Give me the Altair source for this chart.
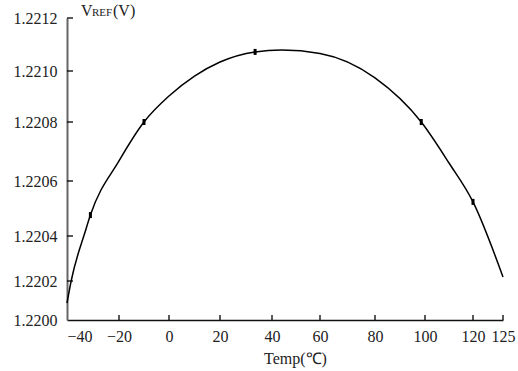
import altair as alt
import pandas as pd

# Curve (temperature in degC, reference voltage in V)
curve_t = [-40, -38.4, -32.8, -31, -20, -10, 0, 10, 20, 33.5, 44, 60, 80, 98.5, 110, 120, 125]
curve_v = [1.220087, 1.2202, 1.220422, 1.220476, 1.220668, 1.22080, 1.220902, 1.22098, 1.221034,
           1.221072, 1.221079, 1.221066, 1.220973, 1.22080, 1.220661, 1.220524, 1.220218]

# Measured points (small markers)
pt_t = [-31, -10, 33.5, 98.5, 120]
pt_v = [1.220476, 1.22080, 1.221072, 1.22080, 1.220524]

# Axis tick labels
x_ticks = [-40, -20, 0, 20, 40, 60, 80, 100, 120, 125]
y_ticks = [1.2200, 1.2202, 1.2204, 1.2206, 1.2208, 1.2210, 1.2212]

W, H = 436, 302
FONT = "Liberation Serif"

# piecewise scales (the original drawing's axis divisions are not uniform)
xs = alt.Scale(domain=x_ticks, range=[0, 52, 102, 153, 205, 253, 308, 358, 406, 436], zero=False, nice=False)
ys = alt.Scale(domain=y_ticks, range=[302, 263, 218, 163, 104, 53, 0], zero=False, nice=False)

curve = pd.DataFrame({"T": curve_t, "V": curve_v})
pts = pd.DataFrame({"T": pt_t, "V": pt_v})
xt = pd.DataFrame({"T": x_ticks[1:]})
yt = pd.DataFrame({"V": y_ticks[1:]})

x_axis = alt.Axis(values=x_ticks, format="d", ticks=False, domainColor="#111", domainWidth=1.6,
                  labelFont=FONT, labelFontSize=16, labelColor="#222", labelPadding=8,
                  labelAlign=alt.expr("datum.value == -40 ? 'left' : 'center'"),
                  title="Temp(℃)", titleFont=FONT, titleFontSize=16, titleFontWeight="normal",
                  titleColor="#222", titlePadding=6, titleX=228, grid=False)
y_axis = alt.Axis(values=y_ticks, format=".4f", ticks=False, domainColor="#666", domainWidth=2,
                  labelFont=FONT, labelFontSize=16, labelColor="#222", labelPadding=10,
                  title=None, grid=False)

line = alt.Chart(curve).mark_line(color="black", strokeWidth=1.5, interpolate="monotone").encode(
    x=alt.X("T:Q", scale=xs, axis=x_axis),
    y=alt.Y("V:Q", scale=ys, axis=y_axis),
)

marks = alt.Chart(pts).mark_tick(orient="vertical", color="black", size=6, thickness=3, opacity=1).encode(
    x=alt.X("T:Q", scale=xs),
    y=alt.Y("V:Q", scale=ys),
)

xticks = alt.Chart(xt).mark_rule(color="black", strokeWidth=1.3).encode(
    x=alt.X("T:Q", scale=xs),
    y=alt.value(H - 5),
    y2=alt.value(H),
)

yticks = alt.Chart(yt).mark_rule(color="black", strokeWidth=1.3).encode(
    y=alt.Y("V:Q", scale=ys),
    x=alt.value(0),
    x2=alt.value(6),
)

lab = pd.DataFrame({"a": ["V"], "b": ["REF"], "c": ["(V)"]})
t1 = alt.Chart(lab).mark_text(font=FONT, fontSize=16, color="#222", align="left", baseline="alphabetic").encode(
    text="a:N", x=alt.value(14), y=alt.value(-2))
t2 = alt.Chart(lab).mark_text(font=FONT, fontSize=11, color="#222", align="left", baseline="alphabetic").encode(
    text="b:N", x=alt.value(25), y=alt.value(-2))
t3 = alt.Chart(lab).mark_text(font=FONT, fontSize=16, color="#222", align="left", baseline="alphabetic").encode(
    text="c:N", x=alt.value(46), y=alt.value(-2))

chart = alt.layer(line, marks, xticks, yticks, t1, t2, t3).properties(
    width=W, height=H,
    padding={"left": 67, "top": 18, "right": 15, "bottom": 51},
    autosize="none",
    background="white",
).configure_view(stroke=None)

chart.save("out.html", embed_options={"renderer": "svg", "actions": False})
